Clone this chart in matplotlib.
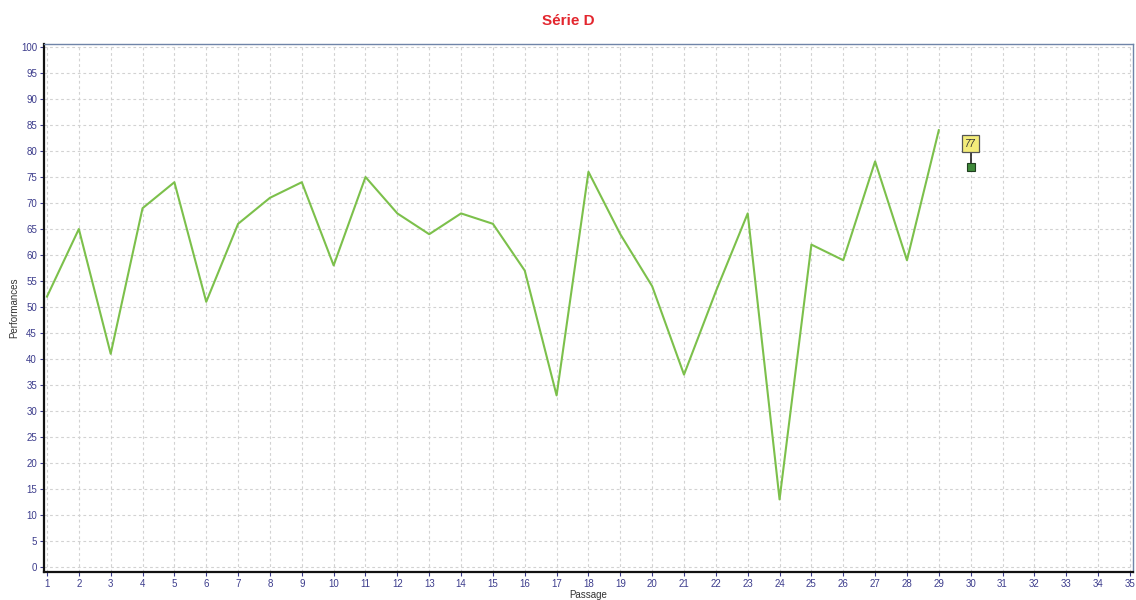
import matplotlib
matplotlib.use("Agg")
import matplotlib.pyplot as plt

plt.rcParams['font.family'] = ['Liberation Sans', 'DejaVu Sans']

passages = list(range(1, 30))
performances = [52, 65, 41, 69, 74, 51, 66, 71, 74, 58, 75, 68, 64, 68, 66, 57, 33, 76,
                64, 54, 37, 53, 68, 13, 62, 59, 78, 59, 84]
marker_x = 30
marker_y = 77
marker_label = "77"
x_ticks = list(range(1, 36))
y_ticks = list(range(0, 101, 5))

fig = plt.figure(figsize=(11.36, 6.0), dpi=100)
ax = fig.add_axes([44/1136, 28/600, (1133-44)/1136, (572-44)/600])

ax.plot(passages, performances, color="#7cc04b", lw=1.5, zorder=3)

# annotation marker
ax.plot([marker_x, marker_x], [marker_y, marker_y + 3.6], color="#222222", lw=1.2, zorder=4)
ax.plot([marker_x], [marker_y], marker="s", ms=5.5, mfc="#3f8a3a", mec="#1f3f1f", mew=0.8, zorder=5)
ax.text(marker_x, marker_y + 4.4, marker_label, ha="center", va="center", fontsize=7,
        fontstyle="italic", color="#333333",
        bbox=dict(boxstyle="square,pad=0.35", fc="#f3ec7a", ec="#555555", lw=0.9), zorder=6)

ax.set_xlim(0.906, 35.097)
ax.set_ylim(-0.96, 100.58)
ax.set_xticks(x_ticks)
ax.set_yticks(y_ticks)
ax.tick_params(axis="both", labelsize=7, labelcolor="#3c3c8c", color="#3c3c8c",
               length=3, width=0.8, pad=2)
ax.grid(True, color="#d2d2d2", linestyle=(0, (2.5, 2.5)), lw=0.8)
ax.set_axisbelow(True)

for side in ("left", "bottom"):
    ax.spines[side].set_color("#111111")
    ax.spines[side].set_linewidth(1.6)
for side in ("top", "right"):
    ax.spines[side].set_color("#6f84a8")
    ax.spines[side].set_linewidth(1.0)

ax.set_xlabel("Passage", fontsize=7, color="#333333", labelpad=1)
ax.set_ylabel("Performances", fontsize=7, color="#333333", labelpad=1)
fig.text(0.5, 0.965, "Série D", ha="center", va="center", fontsize=11,
         fontweight="bold", color="#e3262e")

fig.savefig("out.png", dpi=100, facecolor="white")
